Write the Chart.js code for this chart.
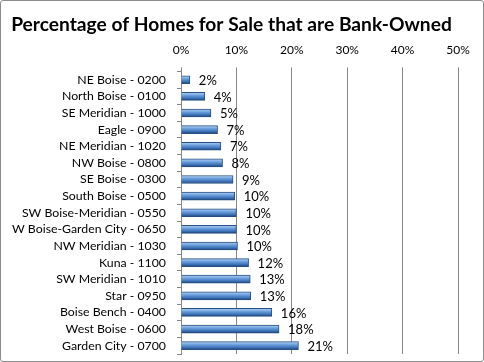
<!DOCTYPE html>
<html lang="en">
  <head>
    <meta charset="UTF-8" />
    <title>Bank-Owned Homes</title>
    <style>
      body {
        margin: 0;
        padding: 0;
        background: #ffffff;
      }
      .frame {
        width: 482px;
        height: 360px;
        border: 1px solid #8c8c8c;
        border-radius: 3px;
        position: relative;
      }
    </style>
  </head>
  <body>
    <div class="frame">
      <canvas id="bankChart"></canvas>
    </div>

    <script src="https://cdn.jsdelivr.net/npm/chart.js"></script>
    <script>
      const areas = [
        "NE Boise - 0200",
        "North Boise - 0100",
        "SE Meridian - 1000",
        "Eagle - 0900",
        "NE Meridian - 1020",
        "NW Boise - 0800",
        "SE Boise - 0300",
        "South Boise - 0500",
        "SW Boise-Meridian - 0550",
        "W Boise-Garden City - 0650",
        "NW Meridian - 1030",
        "Kuna - 1100",
        "SW Meridian - 1010",
        "Star - 0950",
        "Boise Bench - 0400",
        "West Boise - 0600",
        "Garden City - 0700",
      ];
      const bankOwnedPct = [
        1.6, 4.3, 5.4, 6.6, 7.2, 7.5, 9.4, 9.7, 10.0, 10.0, 10.2, 12.2, 12.5,
        12.6, 16.4, 17.7, 21.2,
      ];
      const xTicks = [0, 10, 20, 30, 40, 50];

      const fontFamily = "Lato, 'Open Sans', sans-serif";

      // little plugin for the value labels at the end of each bar
      const barLabels = {
        id: "barLabels",
        afterDatasetsDraw(chart) {
          const ctx = chart.ctx;
          const meta = chart.getDatasetMeta(0);
          ctx.save();
          ctx.font = "13px " + fontFamily;
          ctx.fillStyle = "#000000";
          ctx.textAlign = "left";
          ctx.textBaseline = "middle";
          meta.data.forEach((bar, i) => {
            ctx.fillText(Math.round(bankOwnedPct[i]) + "%", bar.x + 9, bar.y + 1);
          });
          ctx.restore();
        },
      };

      function barGradient(context) {
        const chart = context.chart;
        const yScale = chart.scales.y;
        if (!yScale || context.dataIndex === undefined) return "#4f81bd";
        const y = yScale.getPixelForValue(context.dataIndex);
        if (!isFinite(y)) return "#4f81bd";
        const g = chart.ctx.createLinearGradient(0, y - 4, 0, y + 4);
        g.addColorStop(0, "#b9d5f5");
        g.addColorStop(0.35, "#6fa3e0");
        g.addColorStop(0.75, "#3a6fb5");
        g.addColorStop(1, "#1d416f");
        return g;
      }

      new Chart(document.getElementById("bankChart"), {
        type: "bar",
        data: {
          labels: areas,
          datasets: [
            {
              label: "Bank-Owned",
              data: bankOwnedPct,
              backgroundColor: barGradient,
              borderColor: "#274f85",
              borderWidth: 1,
              borderSkipped: "left",
              barThickness: 8,
            },
          ],
        },
        options: {
          indexAxis: "y",
          responsive: true,
          maintainAspectRatio: false,
          animation: false,
          layout: {
            padding: { left: 4, right: 25, top: 2, bottom: 7 },
          },
          plugins: {
            legend: { display: false },
            tooltip: { enabled: false },
            title: {
              display: true,
              text: "Percentage of Homes for Sale that are Bank-Owned",
              color: "#000000",
              font: { family: fontFamily, size: 19.2, weight: "bold" },
              padding: { top: 10, bottom: -3 },
            },
          },
          scales: {
            x: {
              position: "top",
              min: 0,
              max: 50,
              afterBuildTicks(axis) {
                axis.ticks = xTicks.map((v) => ({ value: v }));
              },
              ticks: {
                color: "#000000",
                font: { family: fontFamily, size: 12 },
                padding: 10,
                callback: (v) => v + "%",
              },
              grid: {
                color: "#868686",
                tickLength: 4,
              },
              border: { display: false },
            },
            y: {
              // fixed width so the axis sits where the original has it,
              // and no extra top/bottom room for the label padding
              afterFit(axis) {
                axis.width = 176;
                axis.paddingTop = 0;
                axis.paddingBottom = 0;
              },
              ticks: {
                color: "#000000",
                font: { family: fontFamily, size: 12.3 },
                padding: 11,
                autoSkip: false,
              },
              grid: {
                offset: true,
                drawOnChartArea: false,
                color: "#868686",
                tickLength: 4,
              },
              border: { display: true, color: "#868686" },
            },
          },
        },
        plugins: [barLabels],
      });
    </script>
  </body>
</html>
